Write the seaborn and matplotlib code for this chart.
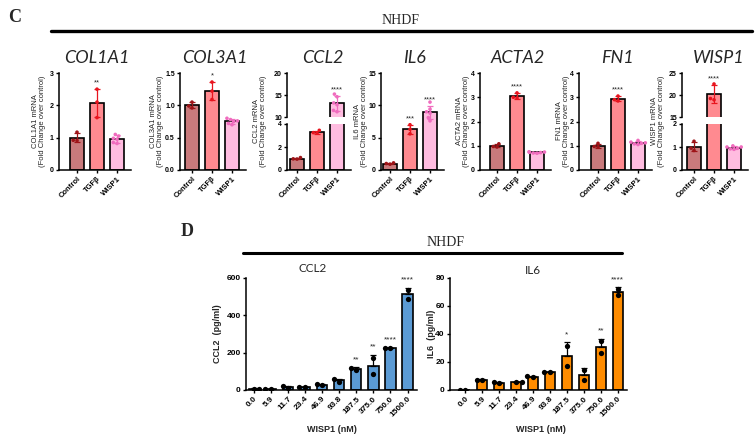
import numpy as np
import pandas as pd
import matplotlib.pyplot as plt
from matplotlib.lines import Line2D
import seaborn as sns

sns.set_style('ticks')
plt.rcParams['font.family'] = ['Liberation Sans', 'DejaVu Sans']

# ---- data: panel C, qPCR fold change (one list per group) ----
groups = ['Control', 'TGFβ', 'WISP1']

col1a1 = {'Control': [1.17, 0.92, 0.91], 'TGFβ': [2.5, 2.1, 1.62],
          'WISP1': [1.1, 0.85, 1.05, 0.82, 0.95, 0.98]}
col3a1 = {'Control': [1.05, 0.96, 0.99], 'TGFβ': [1.36, 1.22, 1.09],
          'WISP1': [0.80, 0.72, 0.78, 0.70, 0.76, 0.75]}
ccl2 = {'Control': [1.08, 0.97, 0.95], 'TGFβ': [3.45, 3.2, 3.25],
        'WISP1': [15.2, 14.6, 12.8, 11.2, 11.5, 13.2]}
il6 = {'Control': [1.1, 1.0, 0.9], 'TGFβ': [7.0, 6.3, 5.6],
       'WISP1': [10.5, 9.4, 8.8, 8.1, 7.6, 9.0]}
acta2 = {'Control': [1.08, 0.97, 0.95], 'TGFβ': [3.18, 3.0, 2.97],
         'WISP1': [0.75, 0.70, 0.73, 0.69, 0.72, 0.74]}
fn1 = {'Control': [1.1, 0.97, 0.95], 'TGFβ': [3.05, 2.85, 2.9],
       'WISP1': [1.22, 1.08, 1.15, 1.05, 1.12, 1.1]}
wisp1 = {'Control': [1.25, 0.85, 0.95], 'TGFβ': [22.5, 19.2, 18.9],
         'WISP1': [1.05, 0.92, 1.0, 0.95, 0.9, 1.0]}

top_stars = {'COL1A1': {'TGFβ': '**'}, 'COL3A1': {'TGFβ': '*'},
             'CCL2': {'WISP1': '****'}, 'IL6': {'TGFβ': '***', 'WISP1': '****'},
             'ACTA2': {'TGFβ': '****'}, 'FN1': {'TGFβ': '****'},
             'WISP1': {'TGFβ': '****'}}

# ---- data: panel D, ELISA (two replicates per dose) ----
doses = ['0.0', '5.9', '11.7', '23.4', '46.9', '93.8', '187.5', '375.0', '750.0', '1500.0']
ccl2_rep1 = [5, 5, 12, 15, 25, 45, 105, 170, 226, 537]
ccl2_rep2 = [8, 6, 20, 14, 32, 58, 118, 85, 223, 490]
il6_rep1 = [0, 7.5, 5.5, 5.5, 9.8, 12.8, 31.2, 14.0, 34.9, 72.5]
il6_rep2 = [0, 7.0, 5.2, 5.7, 9.4, 12.6, 17.3, 7.2, 26.4, 67.8]
ccl2_stars = {'187.5': '**', '375.0': '**', '750.0': '****', '1500.0': '****'}
il6_stars = {'187.5': '*', '750.0': '**', '1500.0': '****'}

bar_pal = {'Control': '#C97A7C', 'TGFβ': '#FF8A90', 'WISP1': '#FFBCE0'}
pt_pal = {'Control': '#9E1418', 'TGFβ': '#E8141E', 'WISP1': '#F06CBE'}

W, H = 756, 441
fig = plt.figure(figsize=(W / 100, H / 100), dpi=100)


def box(x0, y0, x1, y1):
    return fig.add_axes([x0 / W, 1 - y1 / H, (x1 - x0) / W, (y1 - y0) / H])


def long_df(d):
    return pd.DataFrame([(g, v) for g in groups for v in d[g]], columns=['group', 'value'])


def style(ax, fs=5):
    for s in ['left', 'bottom']:
        ax.spines[s].set_linewidth(1.1)
        ax.spines[s].set_color('black')
    ax.tick_params(axis='both', length=2.5, width=1, labelsize=fs, pad=1.2, colors='black')
    for lab in ax.get_yticklabels():
        lab.set_fontweight('bold')
    ax.set_xlabel('')
    ax.set_ylabel('')


def top_panel(ax, df, ylim, yticks, xl, stars, bottom=True, show_stars=True):
    sns.barplot(data=df, x='group', y='value', hue='group', order=groups, palette=bar_pal,
                errorbar=None, width=0.68, saturation=1, edgecolor='black', linewidth=1.2,
                legend=False, ax=ax)
    sns.swarmplot(data=df, x='group', y='value', hue='group', order=groups, palette=pt_pal,
                  size=2.6, legend=False, ax=ax)
    stats = df.groupby('group', sort=False)['value'].agg(['mean', 'std'])
    for i, g in enumerate(groups):
        m, s = stats.loc[g, 'mean'], stats.loc[g, 'std']
        ax.errorbar(i, m, yerr=s, color=pt_pal[g], capsize=2, lw=0.9, capthick=0.9, zorder=4)
        if show_stars and g in stars:
            ax.annotate(stars[g], (i, m + s), xytext=(0, 2), textcoords='offset points',
                        ha='center', va='bottom', fontsize=5.5)
    ax.set_ylim(*ylim)
    ax.set_yticks(yticks)
    ax.set_xlim(xl, 2.7)
    sns.despine(ax=ax)
    style(ax)
    if bottom:
        ax.set_xticks(range(3))
        ax.set_xticklabels(groups, rotation=45, ha='right', rotation_mode='anchor',
                           fontsize=5.5, fontweight='bold')
    else:
        ax.spines['bottom'].set_visible(False)
        ax.tick_params(axis='x', bottom=False, labelbottom=False)


def title_top(xc, name):
    fig.text(xc / W, 1 - 58 / H, name, ha='center', va='center', fontsize=13,
             style='italic', family=['Lato', 'DejaVu Sans'])


def ylab(x, yc, text, fs=5.5, weight='normal'):
    fig.text(x / W, 1 - yc / H, text, rotation=90, ha='center', va='center',
             fontsize=fs, fontweight=weight, linespacing=1.1)


# ---- panel C ----
fig.text(8 / W, 1 - 17 / H, 'C', fontsize=13, fontweight='bold', va='center',
         family=['Liberation Serif'])
fig.add_artist(Line2D([51 / W, 752 / W], [1 - 31 / H] * 2, lw=2.4, color='black'))
fig.text(401 / W, 1 - 20 / H, 'NHDF', ha='center', va='center', fontsize=10,
         family=['Liberation Serif'])

# name, values, y-axis x pixel, ylim, yticks, left xlim, label offset
simple = [('COL1A1', col1a1, 59, (0, 3), [0, 1, 2, 3], -0.9, 20),
          ('COL3A1', col3a1, 180, (0, 1.5), [0.0, 0.5, 1.0, 1.5], -0.6, 23),
          ('IL6', il6, 381, (0, 15), [0, 5, 10, 15], -0.45, 20),
          ('ACTA2', acta2, 480, (0, 4), [0, 1, 2, 3, 4], -0.85, 17),
          ('FN1', fn1, 579, (0, 4), [0, 1, 2, 3, 4], -0.95, 16)]
for name, d, x0, ylim, yt, xl, off in simple:
    ax = box(x0, 73, x0 + (2.7 - xl) * 20, 170)
    top_panel(ax, long_df(d), ylim, yt, xl, top_stars[name])
    if name == 'COL3A1':
        ax.set_yticklabels(['0.0', '0.5', '1.0', '1.5'])
    title_top(x0 + (2.7 - xl) * 20 / 2 + 2, name)
    ylab(x0 - off, 121, f'{name} mRNA\n(Fold Change over control)')

broken = [('CCL2', ccl2, 287, (0, 4), [0, 2, 4], (10, 20), [10, 15, 20], -0.5, 27),
          ('WISP1', wisp1, 682, (0, 2), [0, 1, 2], (15, 25), [15, 20, 25], -0.6, 24)]
for name, d, x0, lo, lot, hi, hit, xl, off in broken:
    x1 = x0 + (2.7 - xl) * 20
    ax_lo = box(x0, 124, x1, 170)
    ax_hi = box(x0, 73, x1, 117)
    df = long_df(d)
    top_panel(ax_lo, df, lo, lot, xl, top_stars[name], show_stars=False)
    top_panel(ax_hi, df, hi, hit, xl, top_stars[name], bottom=False)
    title_top((x0 + x1) / 2 + 4, name)
    ylab(x0 - off, 121, f'{name} mRNA\n(Fold Change over control)')

# ---- panel D ----
fig.text(181 / W, 1 - 232 / H, 'D', fontsize=13, fontweight='bold', va='center',
         family=['Liberation Serif'])
fig.add_artist(Line2D([243 / W, 622 / W], [1 - 253 / H] * 2, lw=2.2, color='black'))
fig.text(446 / W, 1 - 242 / H, 'NHDF', ha='center', va='center', fontsize=10,
         family=['Liberation Serif'])


def elisa(ax, rep1, rep2, color, ylim, yticks, stars, xl):
    df = pd.DataFrame({'dose': doses * 2, 'value': rep1 + rep2})
    sns.barplot(data=df, x='dose', y='value', order=doses, color=color, errorbar=None,
                width=0.6, saturation=1, edgecolor='black', linewidth=1.2, ax=ax)
    sns.swarmplot(data=df, x='dose', y='value', order=doses, color='black', size=3.8, ax=ax)
    stats = df.groupby('dose', sort=False)['value'].agg(['mean', 'std'])
    for i, dz in enumerate(doses):
        m, s = stats.loc[dz, 'mean'], stats.loc[dz, 'std']
        ax.errorbar(i, m, yerr=[[0], [s]], color='black', capsize=2, lw=0.9, capthick=0.9,
                    zorder=4)
        if dz in stars:
            top = max(m + s, df[df.dose == dz]['value'].max())
            ax.annotate(stars[dz], (i, top), xytext=(0, 3), textcoords='offset points',
                        ha='center', va='bottom', fontsize=6)
    ax.set_ylim(*ylim)
    ax.set_yticks(yticks)
    ax.set_xlim(xl, 9.55)
    sns.despine(ax=ax)
    style(ax, fs=6)
    ax.set_xticks(range(len(doses)))
    ax.set_xticklabels(doses, rotation=45, ha='right', rotation_mode='anchor',
                       fontsize=6, fontweight='bold')


ax_c = box(246, 278, 417, 390)
elisa(ax_c, ccl2_rep1, ccl2_rep2, '#5B9BD5', (0, 600), [0, 200, 400, 600], ccl2_stars, -0.45)
ax_i = box(450, 278, 627, 390)
elisa(ax_i, il6_rep1, il6_rep2, '#FF8C00', (0, 80), [0, 20, 40, 60, 80], il6_stars, -0.9)

fig.text(313 / W, 1 - 268 / H, 'CCL2', ha='center', va='center', fontsize=8.5,
         family=['Lato', 'DejaVu Sans'])
fig.text(533 / W, 1 - 270 / H, 'IL6', ha='center', va='center', fontsize=8.5,
         family=['Lato', 'DejaVu Sans'])
ylab(217, 334, 'CCL2  (pg/ml)', fs=6.5, weight='bold')
ylab(432, 334, 'IL6  (pg/ml)', fs=6.5, weight='bold')
fig.text(332 / W, 1 - 430 / H, 'WISP1 (nM)', ha='center', va='center', fontsize=6.5,
         fontweight='bold')
fig.text(541 / W, 1 - 430 / H, 'WISP1 (nM)', ha='center', va='center', fontsize=6.5,
         fontweight='bold')

fig.savefig('out.png', dpi=100)
